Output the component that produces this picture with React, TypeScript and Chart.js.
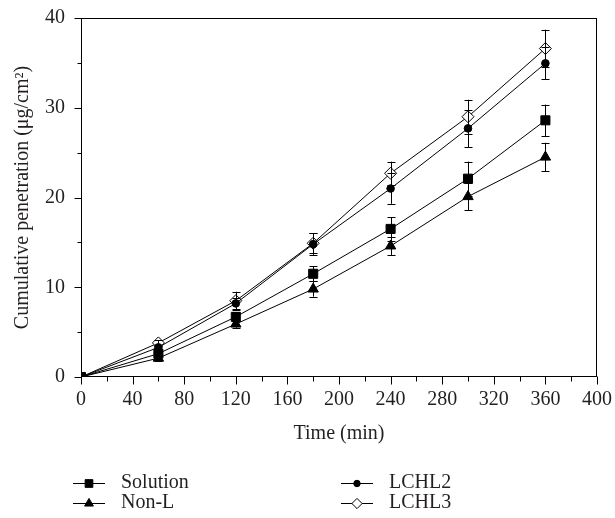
import { useEffect, useRef } from "react";
import { Chart, registerables } from "chart.js";

Chart.register(...registerables);

const times = [0, 60, 120, 180, 240, 300, 360];
const solutionVals = [0, 2.6, 6.7, 11.5, 16.5, 22.1, 28.6];
const solutionErr = [0, 0.3, 0.5, 0.85, 1.3, 1.9, 1.75];
const nonLVals = [0, 2.1, 5.9, 9.8, 14.6, 20.1, 24.5];
const nonLErr = [0, 0.3, 0.4, 0.85, 1.0, 1.5, 1.6];
const lchl2Vals = [0, 3.3, 8.2, 14.8, 21.0, 27.7, 34.95];
const lchl2Err = [0, 0.3, 0.6, 1.2, 1.7, 2.1, 1.8];
const lchl3Vals = [0, 3.8, 8.5, 14.9, 22.7, 29.0, 36.6];
const lchl3Err = [0, 0.3, 1.0, 1.1, 1.3, 1.9, 2.1];

const xTickValues = [0, 40, 80, 120, 160, 200, 240, 280, 320, 360, 400];
const yTickValues = [0, 10, 20, 30, 40];

const seriesNames = ["Solution", "Non-L", "LCHL2", "LCHL3"];

const FONT = '"Liberation Serif", "DejaVu Serif", serif';
const TEXT = "#231f20";

type Style = { pointStyle: string; radius: number; fill: string };
const styles: Style[] = [
  { pointStyle: "rect", radius: 6.4, fill: "#000" },
  { pointStyle: "triangle", radius: 6, fill: "#000" },
  { pointStyle: "circle", radius: 3.8, fill: "#000" },
  { pointStyle: "rectRot", radius: 6, fill: "#fff" },
];

function drawMarker(ctx: CanvasRenderingContext2D, kind: string, x: number, y: number, r: number, fill: string) {
  ctx.save();
  ctx.beginPath();
  if (kind === "rect") {
    const s = r * Math.SQRT1_2;
    ctx.rect(x - s, y - s, 2 * s, 2 * s);
  } else if (kind === "triangle") {
    ctx.moveTo(x, y - r);
    ctx.lineTo(x + r * 0.866, y + r * 0.5);
    ctx.lineTo(x - r * 0.866, y + r * 0.5);
    ctx.closePath();
  } else if (kind === "circle") {
    ctx.arc(x, y, r, 0, Math.PI * 2);
  } else {
    ctx.moveTo(x, y - r);
    ctx.lineTo(x + r, y);
    ctx.lineTo(x, y + r);
    ctx.lineTo(x - r, y);
    ctx.closePath();
  }
  ctx.fillStyle = fill;
  ctx.fill();
  ctx.lineWidth = 1;
  ctx.strokeStyle = "#000";
  ctx.stroke();
  ctx.restore();
}

const errors = [solutionErr, nonLErr, lchl2Err, lchl3Err];

const decorPlugin = {
  id: "decor",
  afterDatasetsDraw(chart: any) {
    const ctx: CanvasRenderingContext2D = chart.ctx;
    const xs = chart.scales.x;
    const ys = chart.scales.y;
    ctx.save();
    ctx.strokeStyle = "#000";
    ctx.lineWidth = 1;
    chart.data.datasets.forEach((ds: any, di: number) => {
      const errs = errors[di];
      ds.data.forEach((p: any, i: number) => {
        const e = errs[i];
        if (!e) return;
        const px = Math.round(xs.getPixelForValue(p.x)) + 0.5;
        const yTop = ys.getPixelForValue(p.y + e);
        const yBot = ys.getPixelForValue(p.y - e);
        ctx.beginPath();
        ctx.moveTo(px, yTop);
        ctx.lineTo(px, yBot);
        ctx.moveTo(px - 4, Math.round(yTop) + 0.5);
        ctx.lineTo(px + 4, Math.round(yTop) + 0.5);
        ctx.moveTo(px - 4, Math.round(yBot) + 0.5);
        ctx.lineTo(px + 4, Math.round(yBot) + 0.5);
        ctx.stroke();
      });
    });
    ctx.restore();
  },
  afterDraw(chart: any) {
    const ctx: CanvasRenderingContext2D = chart.ctx;
    const { left, right, top, bottom } = chart.chartArea;
    const xs = chart.scales.x;
    const ys = chart.scales.y;
    ctx.save();
    ctx.strokeStyle = "#000";
    ctx.lineWidth = 1;
    ctx.strokeRect(Math.round(left) + 0.5, Math.round(top) + 0.5, Math.round(right - left) - 1, Math.round(bottom - top) - 1);
    ctx.beginPath();
    const bt = Math.round(bottom) - 0.5;
    for (let i = 0; i < xTickValues.length; i++) {
      const px = Math.round(xs.getPixelForValue(xTickValues[i])) + 0.5;
      ctx.moveTo(px, bt);
      ctx.lineTo(px, bt + 8);
      if (i < xTickValues.length - 1) {
        const mid = (xTickValues[i] + xTickValues[i + 1]) / 2;
        const mx = Math.round(xs.getPixelForValue(mid)) + 0.5;
        ctx.moveTo(mx, bt);
        ctx.lineTo(mx, bt + 5);
      }
    }
    const lx = Math.round(left) + 0.5;
    for (let i = 0; i < yTickValues.length; i++) {
      const py = Math.round(ys.getPixelForValue(yTickValues[i])) + 0.5;
      ctx.moveTo(lx, py);
      ctx.lineTo(lx - 7, py);
      if (i < yTickValues.length - 1) {
        const mid = (yTickValues[i] + yTickValues[i + 1]) / 2;
        const my = Math.round(ys.getPixelForValue(mid)) + 0.5;
        ctx.moveTo(lx, my);
        ctx.lineTo(lx - 4, my);
      }
    }
    ctx.stroke();

    // legend
    const legendPos = [
      { x: 73, y: 483 },
      { x: 73, y: 503 },
      { x: 341, y: 483 },
      { x: 341, y: 503 },
    ];
    ctx.font = `20px ${FONT}`;
    ctx.fillStyle = TEXT;
    ctx.textBaseline = "middle";
    ctx.textAlign = "left";
    seriesNames.forEach((name, i) => {
      const { x, y } = legendPos[i];
      const yy = Math.round(y) + 0.5;
      ctx.beginPath();
      ctx.moveTo(x, yy);
      ctx.lineTo(x + 32, yy);
      ctx.stroke();
      const st = styles[i];
      drawMarker(ctx, st.pointStyle, x + 16, yy, st.radius * 0.85, st.fill);
      ctx.fillStyle = TEXT;
      ctx.fillText(name, x + 48, y);
    });
    ctx.restore();
  },
};

export default function App() {
  const ref = useRef<HTMLCanvasElement | null>(null);
  useEffect(() => {
    document.body.style.margin = "0";
    const vals = [solutionVals, nonLVals, lchl2Vals, lchl3Vals];
    const chart = new Chart(ref.current as HTMLCanvasElement, {
      type: "line",
      data: {
        datasets: seriesNames.map((name, i) => ({
          label: name,
          data: times.map((t, j) => ({ x: t, y: vals[i][j] })),
          borderColor: "#000",
          borderWidth: 1,
          pointStyle: styles[i].pointStyle as any,
          pointRadius: styles[i].radius,
          pointBackgroundColor: styles[i].fill,
          pointBorderColor: "#000",
          pointBorderWidth: 1,
          fill: false,
          tension: 0,
        })),
      },
      options: {
        animation: false,
        responsive: false,
        events: [],
        layout: { padding: { left: 0, right: 18, top: 18, bottom: 68 } },
        plugins: { legend: { display: false }, tooltip: { enabled: false } },
        scales: {
          x: {
            type: "linear",
            min: 0,
            max: 400,
            afterBuildTicks: (s: any) => {
              s.ticks = xTickValues.map((v) => ({ value: v }));
            },
            afterFit: (s: any) => {
              s.height = 73;
              s.paddingLeft = 0;
              s.paddingRight = 0;
            },
            grid: { display: false, drawTicks: false },
            border: { display: false },
            ticks: { color: TEXT, font: { family: FONT, size: 20 }, padding: 11, maxRotation: 0, autoSkip: false },
            title: { display: true, text: "Time (min)", color: TEXT, font: { family: FONT, size: 20 }, padding: { top: 0, bottom: 4 } },
          },
          y: {
            type: "linear",
            min: 0,
            max: 40,
            afterBuildTicks: (s: any) => {
              s.ticks = yTickValues.map((v) => ({ value: v }));
            },
            afterFit: (s: any) => {
              s.width = 81;
              s.paddingTop = 0;
              s.paddingBottom = 0;
            },
            grid: { display: false, drawTicks: false },
            border: { display: false },
            ticks: { color: TEXT, font: { family: FONT, size: 20 }, padding: 16, autoSkip: false },
            title: { display: true, text: "Cumulative penetration (μg/cm²)", color: TEXT, font: { family: FONT, size: 20 }, padding: { top: 11, bottom: 0 } },
          },
        },
      },
      plugins: [decorPlugin],
    });
    return () => chart.destroy();
  }, []);
  return (
    <div style={{ width: 615, height: 518 }}>
      <canvas ref={ref} width={615} height={518} style={{ display: "block", width: 615, height: 518 }} />
    </div>
  );
}
